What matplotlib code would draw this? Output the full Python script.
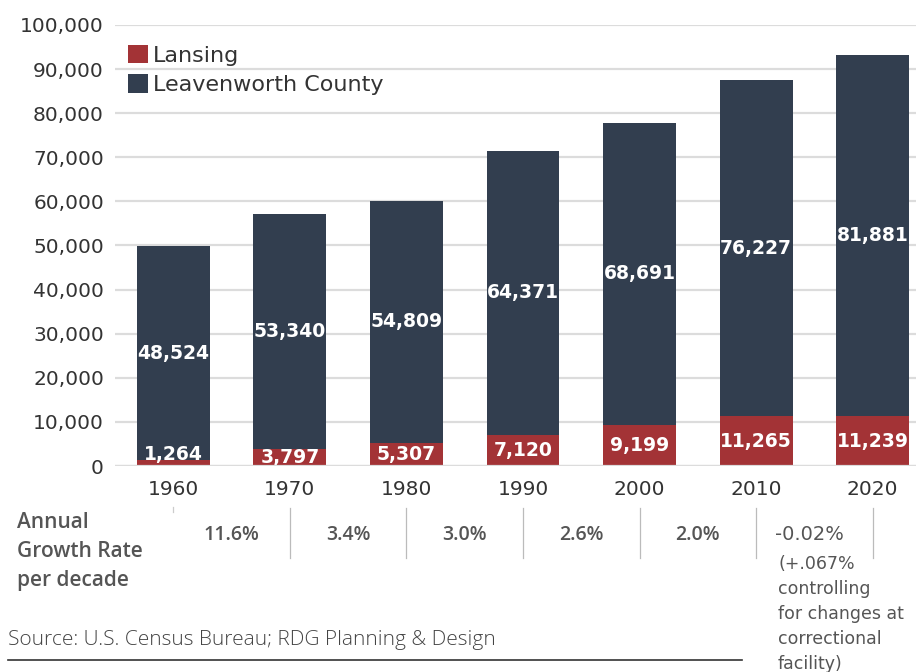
import matplotlib
matplotlib.use("Agg")
import matplotlib.pyplot as plt
import matplotlib.transforms as mtransforms
import numpy as np

plt.rcParams['font.family'] = ['DejaVu Sans']

years = ['1960', '1970', '1980', '1990', '2000', '2010', '2020']
lansing = [1264, 3797, 5307, 7120, 9199, 11265, 11239]
county = [48524, 53340, 54809, 64371, 68691, 76227, 81881]
growth = ['11.6%', '3.4%', '3.0%', '2.6%', '2.0%']
last_growth = '-0.02%'
growth_note = '(+.067%\ncontrolling\nfor changes at\ncorrectional\nfacility)'

RED = '#A33336'
NAVY = '#323E4F'
GRID = '#DCDCDC'
TXT = '#333333'
GREY = '#555555'

W, H = 916, 672
fig = plt.figure(figsize=(W / 100, H / 100), dpi=100)

def fx(px):
    return px / W

def fy(py):
    return 1 - py / H

ax = fig.add_axes([fx(115), fy(466), fx(931) - fx(115), fy(25) - fy(466)])

x = np.arange(len(years))
width = 0.625
ax.bar(x, lansing, width, color=RED, label='Lansing', zorder=2)
ax.bar(x, county, width, bottom=lansing, color=NAVY, label='Leavenworth County', zorder=2)

for i in range(len(years)):
    # small red segments get their label nudged up into the dark bar
    ly = lansing[i] / 2 if lansing[i] > 2000 else 2500
    ax.text(x[i], ly, f'{lansing[i]:,}', ha='center', va='center', color='white',
            fontsize=13.5, fontweight='bold', zorder=3)
    ax.text(x[i], lansing[i] + county[i] / 2, f'{county[i]:,}', ha='center', va='center',
            color='white', fontsize=13.5, fontweight='bold', zorder=3)

ax.axhline(0, color=GRID, lw=1.6, zorder=4)
ax.set_xlim(-0.5, len(years) - 0.5)
ax.set_ylim(0, 100000)
ax.set_yticks(np.arange(0, 100001, 10000))
ax.yaxis.set_major_formatter(matplotlib.ticker.FuncFormatter(lambda v, p: f'{int(v):,}'))
ax.set_xticks(x, years)
ax.tick_params(axis='both', length=0, labelsize=14.5, colors=TXT)
ax.tick_params(axis='y', pad=8)
ax.tick_params(axis='x', pad=10)
ax.grid(axis='y', color=GRID, lw=1.6, zorder=0)
ax.set_axisbelow(True)
for s in ax.spines.values():
    s.set_visible(False)

leg = ax.legend(loc='upper left', bbox_to_anchor=(0.016, 0.955), frameon=False,
                fontsize=16, handlelength=0.9, handleheight=0.9, handletextpad=0.2,
                labelspacing=0.38, borderaxespad=0, borderpad=0)
for t in leg.get_texts():
    t.set_color(TXT)

# growth rate row beneath the bars
trans = mtransforms.blended_transform_factory(ax.transData, fig.transFigure)
for i, g in enumerate(growth):
    fig.text(x[i] + 0.5, fy(535), g, transform=trans, ha='center', va='center',
             fontsize=14, fontweight='semibold', color=GREY, family='Open Sans')
fig.text(fx(775), fy(535), last_growth, ha='left', va='center', fontsize=14,
         color=GREY)
for i in range(1, len(years)):
    fig.add_artist(plt.Line2D([x[i], x[i]], [fy(508), fy(558)], transform=trans,
                              color='#BBBBBB', lw=0.9))
fig.add_artist(plt.Line2D([x[0], x[0]], [fy(507), fy(512)], transform=trans,
                          color='#CCCCCC', lw=0.9))
fig.text(fx(778), fy(555), growth_note, ha='left', va='top', fontsize=12.5,
         color=GREY, linespacing=1.5)

fig.text(fx(17), fy(512), 'Annual\nGrowth Rate\nper decade', ha='left', va='top',
         fontsize=15, fontweight='semibold', color=GREY, linespacing=1.5,
         family='Open Sans')

fig.text(fx(8), fy(640), 'Source: U.S. Census Bureau; RDG Planning & Design', ha='left',
         va='center', fontsize=15, fontweight='light', color='#444444',
         family='Open Sans')
fig.add_artist(plt.Line2D([fx(8), fx(742)], [fy(660), fy(660)], color='#333333', lw=1.2))

fig.savefig('out.png', dpi=100)
